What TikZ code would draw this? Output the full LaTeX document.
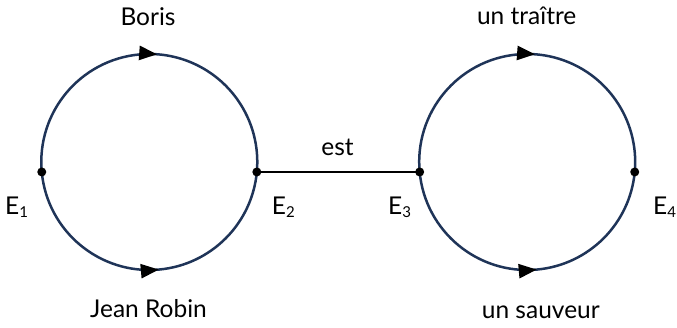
\documentclass[tikz,border=0pt]{standalone}
\usepackage{fontspec}
\setmainfont{Lato}
\usetikzlibrary{arrows.meta,decorations.markings,calc}
\definecolor{navy}{RGB}{31,52,88}
\begin{document}
\begin{tikzpicture}[x=1pt,y=1pt,
  arcline/.style={draw=navy,line width=2.5pt},
  flow/.style={postaction={decorate},decoration={markings,mark=at position #1 with {\arrow{Triangle[length=18pt,width=14pt,fill=black,color=black]}}}},
  dotpt/.style={circle,fill=black,inner sep=0pt,minimum size=9pt},
  lbl/.style={font=\fontsize{24.5}{28}\selectfont,inner sep=0pt,anchor=base},
  elbl/.style={font=\fontsize{24.5}{28}\selectfont,inner sep=0pt,anchor=base west},
]
\useasboundingbox (0,0) rectangle (677,328);
\def\sub#1{\raisebox{-3pt}{\fontsize{15}{15}\selectfont #1}}
% centres
\coordinate (c1) at (149.3,166);
\coordinate (c2) at (527.2,166);
% end points
\coordinate (E1) at ($(c1)+(185.3:108)$);
\coordinate (E2) at ($(c1)+(-5.3:108)$);
\coordinate (E3) at ($(c2)+(185.3:108)$);
\coordinate (E4) at ($(c2)+(-5.3:108)$);
% arcs
\path[arcline,flow=0.522] (E1) arc[start angle=185.3,end angle=-5.3,radius=108];
\path[arcline,flow=0.53] (E1) arc[start angle=185.3,end angle=354.7,radius=108];
\path[arcline,flow=0.522] (E3) arc[start angle=185.3,end angle=-5.3,radius=108];
\path[arcline,flow=0.53] (E3) arc[start angle=185.3,end angle=354.7,radius=108];
% link
\draw[line width=2.2pt,black] (E2) -- (E3);
\foreach \p in {E1,E2,E3,E4} \node[dotpt] at (\p) {};
% labels
\node[lbl] (boris) at (148,302) {Boris};
\node[lbl] (jean) at (148.5,10.5) {Jean Robin};
\node[lbl] (traitre) at (526.7,303) {un traître};
\node[lbl] (sauveur) at (540.8,9.5) {un sauveur};
\node[lbl] (est) at (337.5,172) {est};
\node[elbl] (l1) at (5,113.7) {E\sub{1}};
\node[elbl] (l2) at (271.7,113.7) {E\sub{2}};
\node[elbl] (l3) at (388,113.7) {E\sub{3}};
\node[elbl] (l4) at (653,113.7) {E\sub{4}};
\end{tikzpicture}
\end{document}
